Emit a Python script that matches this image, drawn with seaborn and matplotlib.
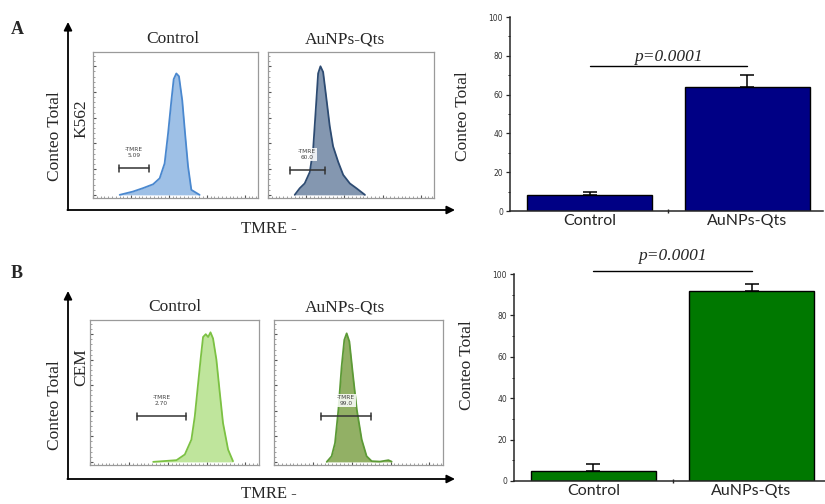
import numpy as np
import pandas as pd
import matplotlib
matplotlib.use("Agg")
import matplotlib.pyplot as plt
from matplotlib.ticker import MultipleLocator
import seaborn as sns

# ---------------- data ----------------
groups = ["Control", "AuNPs-Qts"]
bar_A = [8, 64]
err_A = [2, 6]
bar_B = [5, 92]
err_B = [3, 3]
p_text = "p=0.0001"

# flow-cytometry histogram outlines (x: position in plot box 0-100, y: relative count)
hA_ctrl_x = [16.2, 24.2, 30.3, 36.4, 40.4, 43.4, 45.5, 47.5, 48.9, 50.5, 52.1, 54.1, 55.8, 57.6, 59.6, 64.6]
hA_ctrl_y = [0, 2.3, 4.7, 7.4, 11.6, 22, 43, 66, 81, 85, 83, 66, 43, 20, 3.5, 0]
hA_trt_x = [16.1, 19.1, 22.1, 25.2, 27.2, 28.8, 30.2, 31.6, 33.2, 34.8, 37.2, 39.2, 42.3, 45.3, 49.3, 53.3, 58.4]
hA_trt_y = [0, 4.6, 8, 16, 32, 60, 85, 90, 86, 71, 48, 34, 23, 14, 8, 4.6, 0]
hB_ctrl_x = [37.4, 51.2, 56.1, 60.0, 62.0, 64.0, 65.6, 66.9, 68.5, 69.9, 71.3, 72.8, 74.8, 76.8, 78.7, 81.7, 84.6]
hB_ctrl_y = [0, 1.2, 5.2, 15.7, 32, 55.5, 74, 88, 90, 88, 91.3, 87, 72, 48.7, 27.4, 8.7, 0.5]
hB_trt_x = [31.2, 34.1, 36.1, 38.1, 40.0, 41.6, 43.0, 44.6, 46.6, 49.0, 51.9, 54.8, 57.8, 62.7, 67.7, 69.6]
hB_trt_y = [0, 4, 13.3, 36.8, 67, 86, 90.6, 84.8, 62.5, 36.8, 15.7, 4, 0.5, 0.2, 1.2, 0.2]

# gates: (x start, x end, y level, percentage label)
gate_A_ctrl = (15.8, 33.7, 18.6, "5.09")
gate_A_trt = (13.1, 34.2, 17.2, "60.0")
gate_B_ctrl = (27.6, 57.1, 32.0, "2.70")
gate_B_trt = (27.8, 57.2, 32.0, "99.0")

# ---------------- style ----------------
sns.set_style("ticks")
plt.rcParams["font.family"] = ["Liberation Serif", "DejaVu Serif"]

W, H = 825, 504
fig = plt.figure(figsize=(W / 100, H / 100), dpi=100)


def px(x0, y0, x1, y1):
    return [x0 / W, 1 - y1 / H, (x1 - x0) / W, (y1 - y0) / H]


# overlay for arrows and free texts
ov = fig.add_axes([0, 0, 1, 1], zorder=0)
ov.set_xlim(0, W)
ov.set_ylim(H, 0)
ov.axis("off")
ov.patch.set_alpha(0)

arrow_kw = dict(arrowstyle="-|>", color="black", lw=1.3, mutation_scale=12, shrinkA=0, shrinkB=0)
for (y_top, y_base) in [(22, 210), (291, 479)]:
    ov.annotate("", xy=(68, y_top), xytext=(68, y_base), arrowprops=arrow_kw)
    ov.annotate("", xy=(455, y_base), xytext=(67.4, y_base), arrowprops=arrow_kw)

ov.text(17, 29, "A", fontsize=13, fontweight="bold", ha="center", va="center")
ov.text(17, 273, "B", fontsize=13, fontweight="bold", ha="center", va="center")
for (yt, cell, ycell, ytm) in [(39, "K562", 119, 229), (307, "CEM", 367, 494)]:
    ov.text(173 if cell == "K562" else 175, yt, "Control", fontsize=12.5, ha="center", va="center")
    ov.text(345, yt, "AuNPs-Qts", fontsize=12.5, ha="center", va="center")
    ov.text(55, (136 if cell == "K562" else 405), "Conteo Total", fontsize=12.5, rotation=90,
            ha="center", va="center")
    ov.text(81, ycell, cell, fontsize=12.5, rotation=90, ha="center", va="center")
    ov.text(269, ytm, "TMRE -", fontsize=12, ha="center", va="center")


def hist_panel(rect, xs, ys, fill, edge, gate, label_box):
    ax = fig.add_axes(px(*rect), zorder=2)
    df = pd.DataFrame({"x": xs, "y": ys})
    ax.fill_between(df["x"], df["y"], 0, color=fill, alpha=1, lw=0)
    sns.lineplot(data=df, x="x", y="y", ax=ax, color=edge, lw=1.3, sort=False)
    ax.set_xlim(0, 100)
    ax.set_ylim(-2.2, 100)
    ax.set_xlabel("")
    ax.set_ylabel("")
    ax.set_xticklabels([])
    ax.set_yticklabels([])
    ax.xaxis.set_major_locator(MultipleLocator(23))
    ax.xaxis.set_minor_locator(MultipleLocator(2.3))
    ax.yaxis.set_major_locator(MultipleLocator(18))
    ax.yaxis.set_minor_locator(MultipleLocator(3.6))
    ax.tick_params(which="major", length=2.5, width=0.8, color="#555555", direction="in")
    ax.tick_params(which="minor", length=1.2, width=0.5, color="#777777", direction="in")
    for s in ax.spines.values():
        s.set_color("#9a9a9a")
        s.set_linewidth(0.9)
    x0, x1, yg, lab = gate
    ax.plot([x0, x1], [yg, yg], color="#333333", lw=1.1)
    ax.plot([x0, x0], [yg - 2.5, yg + 2.5], color="#333333", lw=1.1)
    ax.plot([x1, x1], [yg - 2.5, yg + 2.5], color="#333333", lw=1.1)
    bbox = dict(facecolor="white", edgecolor="none", pad=0.6, alpha=0.85) if label_box else None
    ax.text((x0 + x1) / 2, yg + 11, "-TMRE\n" + lab, fontsize=4.2, color="#444444",
            ha="center", va="center", family="DejaVu Sans", linespacing=1.3, bbox=bbox)
    return ax


hist_panel((93, 52, 258, 198), hA_ctrl_x, hA_ctrl_y, "#9ec0e6", "#4a88cf", gate_A_ctrl, False)
hist_panel((268, 52, 434, 198), hA_trt_x, hA_trt_y, "#8497b0", "#2d4b72", gate_A_trt, True)
hist_panel((90, 320, 259, 465), hB_ctrl_x, hB_ctrl_y, "#bfe59c", "#7cc143", gate_B_ctrl, False)
hist_panel((274, 320, 443, 465), hB_trt_x, hB_trt_y, "#92b065", "#5c9a36", gate_B_trt, True)


def bar_panel(rect, vals, errs, color, xlim, p_y, p_text_y, label_y):
    ax = fig.add_axes(px(*rect), zorder=2)
    ax.patch.set_alpha(0)
    df = pd.DataFrame({"g": groups, "v": vals})
    sns.barplot(data=df, x="g", y="v", color=color, width=0.79, edgecolor="black",
                linewidth=1.0, saturation=1, ax=ax)
    ax.errorbar([0, 1], vals, yerr=[[0, 0], errs], fmt="none", ecolor="black",
                elinewidth=1.1, capsize=5, capthick=1.1)
    ax.set_xlim(*xlim)
    ax.set_ylim(0, 100)
    ax.set_xlabel("")
    ax.set_ylabel("Conteo Total", fontsize=12.5)
    ax.yaxis.set_label_coords(-0.125, label_y)
    ax.set_yticks([0, 20, 40, 60, 80, 100])
    ax.yaxis.set_minor_locator(MultipleLocator(10))
    ax.tick_params(axis="y", which="major", length=3, width=0.9, labelsize=5.5, pad=2)
    ax.tick_params(axis="y", which="minor", length=1.8, width=0.7)
    for t in ax.get_yticklabels():
        t.set_family("DejaVu Sans")
        t.set_color("#333333")
    ax.set_xticks([0, 1])
    ax.set_xticklabels(groups, fontsize=11.5, family="Lato")
    ax.tick_params(axis="x", which="major", length=0, pad=2)
    ax.set_xticks([0.5], minor=True)
    ax.tick_params(axis="x", which="minor", length=3, width=1, direction="inout")
    sns.despine(ax=ax)
    ax.spines["left"].set_linewidth(1.1)
    ax.spines["bottom"].set_linewidth(1.1)
    ax.plot([0, 1], [p_y, p_y], color="black", lw=1.0, clip_on=False)
    ax.text(0.5, p_text_y, p_text, fontsize=12.5, style="italic", ha="center", va="center")
    return ax


bar_panel((510, 17, 823, 211), bar_A, err_A, "#000085", (-0.505, 1.48), 74.7, 79.5, 0.49)
bar_panel((514, 274, 825, 481), bar_B, err_B, "#007800", (-0.503, 1.465), 101.4, 108.8, 0.56)

fig.savefig("out.png", dpi=100, facecolor="white")
